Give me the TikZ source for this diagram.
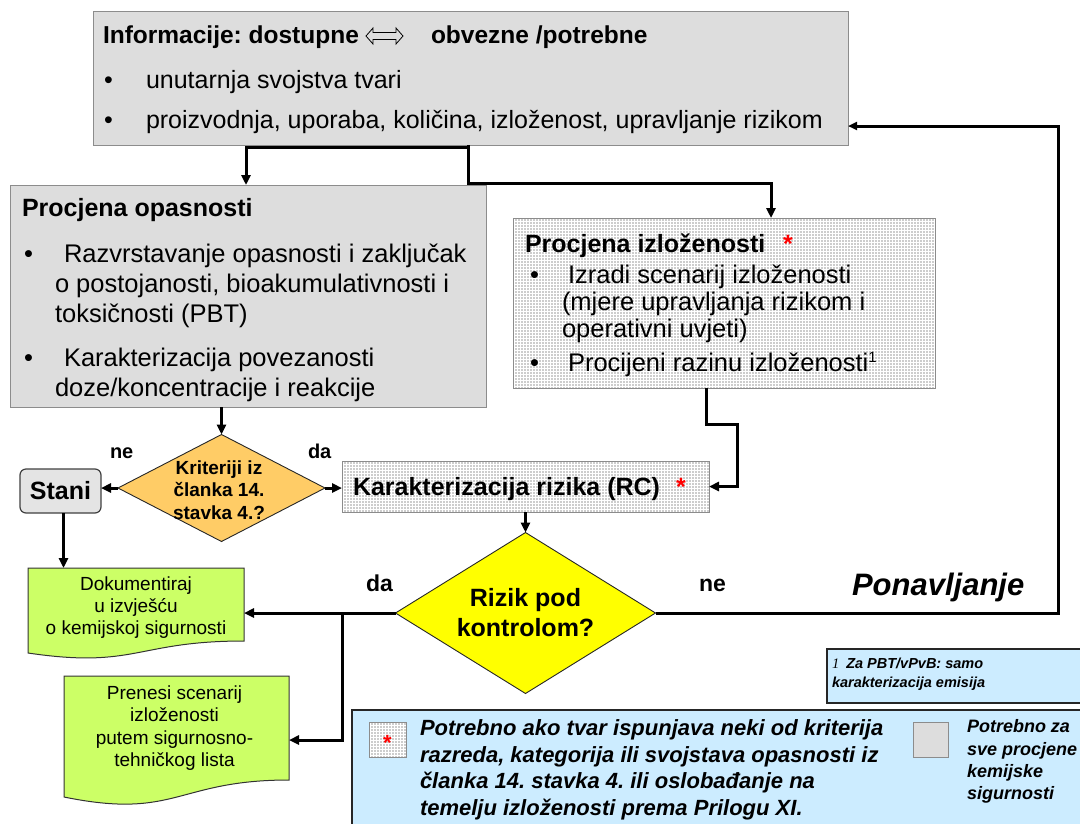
\documentclass[tikz,border=0pt]{standalone}
\usepackage{fontspec}
\setmainfont{Liberation Sans}
\newfontfamily\serifit{Liberation Serif}[ItalicFont=* Italic]
\usetikzlibrary{arrows.meta,shapes.geometric,patterns,calc}
\frenchspacing

\definecolor{boxgray}{HTML}{DDDDDD}
\definecolor{edgegray}{HTML}{8C8C8C}
\definecolor{dotgray}{HTML}{9A9A9A}
\definecolor{stanigray}{HTML}{E4E4E4}
\definecolor{decisionorange}{HTML}{FFCC66}
\definecolor{decisionyellow}{HTML}{FFFF00}
\definecolor{docgreen}{HTML}{CCFF66}
\definecolor{noteblue}{HTML}{CCECFF}
\definecolor{starred}{HTML}{FF0000}

% fine dot texture for the optional steps
\pgfdeclarepatternformonly{finedots}{\pgfqpoint{-1pt}{-1pt}}{\pgfqpoint{1pt}{1pt}}{\pgfqpoint{3pt}{3pt}}{%
  \pgfpathcircle{\pgfqpoint{0pt}{0pt}}{0.9pt}\pgfusepath{fill}}

\newcommand\fsz[2]{\fontsize{#1}{#2}\selectfont}

\tikzset{
  every node/.style={inner sep=0pt, outer sep=0pt},
  panel/.style={draw=edgegray, line width=1pt, fill=boxgray, anchor=north west},
  dotpanel/.style={draw=edgegray, line width=1pt, preaction={fill=white},
    pattern=finedots, pattern color=dotgray, anchor=north west},
  body/.style={anchor=base west, font=\fsz{25.5}{30}},
  topbody/.style={anchor=base west, font=\fsz{25}{30}},
  heading/.style={anchor=base west, font=\fsz{25}{30}\bfseries},
  star/.style={anchor=base west, text=starred, font=\fsz{25}{30}\bfseries},
  decision/.style={diamond, draw=black!85, line width=0.9pt},
  docbox/.style={draw=black!80, line width=1pt, fill=docgreen},
  doctext/.style={align=center, font=\fsz{19}{22.3}},
  lbl/.style={anchor=base west, font=\bfseries},
  flow/.style={line width=3pt, -{Triangle[length=10pt,width=9pt]}},
  plain/.style={line width=3pt},
  notebox/.style={draw=black!85, line width=1.2pt, fill=noteblue, anchor=north west},
  notetext/.style={anchor=base west, font=\fsz{22}{27}\bfseries\itshape},
}

\begin{document}
\begin{tikzpicture}[x=1pt, y=-1pt]
\useasboundingbox (0,0) rectangle (1080,823);
\clip (0,0) rectangle (1080,823);

% ---------- information block ----------
\node[panel, minimum width=755pt, minimum height=134pt] (info) at (93,11) {};
\node[heading, font=\fsz{24.5}{30}\bfseries] (infoA) at (103,43) {Informacije: dostupne};
\node[heading, font=\fsz{24.5}{30}\bfseries] (infoB) at (431,43) {obvezne /potrebne};
\draw[line width=0.8pt, line join=miter]
  (366,36) -- (373,28) -- (373,32.5) -- (396,32.5) -- (396,28) -- (403,36)
  -- (396,44) -- (396,39.5) -- (373,39.5) -- (373,44) -- cycle;
\node[topbody] (infoB1) at (104,88) {•};
\node[topbody] (infoL1) at (146,88) {unutarnja svojstva tvari};
\node[topbody] (infoB2) at (104,128) {•};
\node[topbody] (infoL2) at (146,128) {proizvodnja, uporaba, količina, izloženost, upravljanje rizikom};

% ---------- hazard assessment ----------
\node[panel, minimum width=476pt, minimum height=222pt] (opas) at (10,185) {};
\node[heading] (opasT) at (22,216) {Procjena opasnosti};
\node[body] (opasB1) at (24,262) {•};
\node[body] (opasL1) at (64,262) {Razvrstavanje opasnosti i zaključak};
\node[body] (opasL2) at (55,292) {o postojanosti, bioakumulativnosti i};
\node[body] (opasL3) at (55,322) {toksičnosti (PBT)};
\node[body] (opasB2) at (24,366) {•};
\node[body] (opasL4) at (64,366) {Karakterizacija povezanosti};
\node[body] (opasL5) at (55,396) {doze/koncentracije i reakcije};

% ---------- exposure assessment ----------
\node[dotpanel, minimum width=422pt, minimum height=170pt] (izl) at (513,218) {};
\node[heading] (izlT) at (525,252) {Procjena izloženosti};
\node[star] (izlS) at (783,252) {*};
\node[body] (izlB1) at (530,283) {•};
\node[body] (izlL1) at (568,283) {Izradi scenarij izloženosti};
\node[body] (izlL2) at (562,310) {(mjere upravljanja rizikom i};
\node[body] (izlL3) at (562,337) {operativni uvjeti)};
\node[body] (izlB2) at (530,371) {•};
\node[body] (izlL4) at (568,371) {Procijeni razinu izloženosti\raisebox{9pt}{\fsz{15}{15}1}};

% ---------- criteria decision and stop ----------
\node[decision, fill=decisionorange, minimum width=207pt, minimum height=107pt] (d1) at (221.5,488) {};
\node[align=center, font=\fsz{19}{22.5}\bfseries] (d1t) at (219,490) {Kriteriji iz\\članka 14.\\stavka 4.?};
\node[draw=black!75, line width=1.2pt, rounded corners=6pt, fill=stanigray,
      minimum width=81pt, minimum height=44pt, anchor=north west,
      font=\fsz{25}{30}\bfseries] (stani) at (20,469) {Stani};
\node[lbl, font=\fsz{20}{24}\bfseries] (ne1) at (110,458) {ne};
\node[lbl, font=\fsz{20}{24}\bfseries] (da1) at (308,458) {da};

% ---------- risk characterisation ----------
\node[dotpanel, minimum width=367pt, minimum height=51pt] (rc) at (342,461) {};
\node[heading] (rcT) at (353,495.5) {Karakterizacija rizika (RC)};
\node[star] (rcS) at (676,495.5) {*};

% ---------- risk under control decision ----------
\node[decision, fill=decisionyellow, minimum width=260pt, minimum height=161pt] (rd) at (525.5,613) {};
\node[align=center, font=\fsz{25}{30}\bfseries] (rdt) at (525.5,613) {Rizik pod\\kontrolom?};
\node[lbl, font=\fsz{23}{27}\bfseries] (da2) at (366,591) {da};
\node[lbl, font=\fsz{23}{27}\bfseries] (ne2) at (699,591) {ne};
\node[anchor=base west, font=\fsz{31}{36}\bfseries\itshape] (loopT) at (852,595) {Ponavljanje};

% ---------- documents ----------
\node[minimum width=216pt, minimum height=73pt, anchor=north west] (doc) at (28,568) {};
\filldraw[docbox] (doc.north west) -- (doc.north east) -- (doc.south east)
  .. controls (doc.south) and ($(doc.south)+(0,28)$) .. ($(doc.south west)+(0,12)$) -- cycle;
\node[doctext] (doct) at ($(doc.center)+(0,3)$) {Dokumentiraj\\u izvješću\\o kemijskoj sigurnosti};

\node[minimum width=225pt, minimum height=104pt, anchor=north west] (pre) at (64,676) {};
\filldraw[docbox] (pre.north west) -- (pre.north east) -- (pre.south east)
  .. controls (pre.south) and ($(pre.south)+(0,40)$) .. ($(pre.south west)+(0,17)$) -- cycle;
\node[doctext] (pret) at ($(pre.center)+(-2,0)$) {Prenesi scenarij\\izloženosti\\putem sigurnosno-\\tehničkog lista};

% ---------- notes ----------
\node[notebox, minimum width=260pt, minimum height=54pt] (fn) at (827,649) {};
\node[anchor=base west, font=\fsz{14.5}{19}\bfseries\itshape] (fnA) at (832,668) {{\serifit\itshape\mdseries 1}\hspace{7pt}Za PBT/vPvB: samo};
\node[anchor=base west, font=\fsz{14.5}{19}\bfseries\itshape] (fnB) at (832,687) {karakterizacija emisija};

\node[notebox, minimum width=740pt, minimum height=130pt] (legend) at (352,710) {};
\node[draw=edgegray, line width=1pt, preaction={fill=white}, pattern=finedots, pattern color=dotgray,
      minimum width=37pt, minimum height=35pt, anchor=north west] (keyDots) at (369,722) {};
\node[text=starred, font=\fsz{22}{22}\bfseries] (keyStar) at ($(keyDots.center)+(0,3)$) {*};
\node[notetext] (legL1) at (420,735) {Potrebno ako tvar ispunjava neki od kriterija};
\node[notetext] (legL2) at (420,762) {razreda, kategorija ili svojstava opasnosti iz};
\node[notetext] (legL3) at (420,788) {članka 14. stavka 4. ili oslobađanje na};
\node[notetext] (legL4) at (420,815) {temelju izloženosti prema Prilogu XI.};
\node[draw=edgegray, line width=1pt, fill=boxgray,
      minimum width=35pt, minimum height=35pt, anchor=north west] (keyGray) at (913,722) {};
\node[anchor=base west, font=\fsz{18}{22}\bfseries\itshape] (legR1) at (967,732) {Potrebno za};
\node[anchor=base west, font=\fsz{18}{22}\bfseries\itshape] (legR2) at (967,755) {sve procjene};
\node[anchor=base west, font=\fsz{18}{22}\bfseries\itshape] (legR3) at (967,777) {kemijske};
\node[anchor=base west, font=\fsz{18}{22}\bfseries\itshape] (legR4) at (967,799) {sigurnosti};

% ---------- connectors ----------
\coordinate (fork) at (468,147);
\coordinate (fork2) at (468,183);
\coordinate (jog) at (737,424);
\coordinate (split) at (342,613);
\coordinate (loopCorner) at (1058,126);

\draw[plain] (info.south -| fork) -- (fork);
\draw[flow] (fork) -| ([xshift=-2pt]opas.north);
\draw[flow] (fork) -- (fork2) -| ([xshift=47pt]izl.north);
\draw[flow] (opas.south -| d1.north) -- (d1.north);
\draw[flow] ([xshift=-18pt]izl.south) |- (jog) |- (rc.east);
\draw[flow] (d1.west) -- (d1.west -| stani.east);
\draw[flow] (d1.east) -- (d1.east -| rc.west);
\draw[flow] ([xshift=3pt]stani.south) -- ([xshift=3pt]stani.south |- doc.north);
\draw[flow] (rc.south) -- (rd.north);
\draw[flow] (rd.west) -- (rd.west -| doc.east);
\draw[flow] (split) |- ([yshift=-12pt]pre.east);
\draw[line width=3pt, -{Triangle[length=9pt,width=8pt]}] (rd.east) -| (loopCorner) -- (loopCorner -| info.east);
\end{tikzpicture}
\end{document}
